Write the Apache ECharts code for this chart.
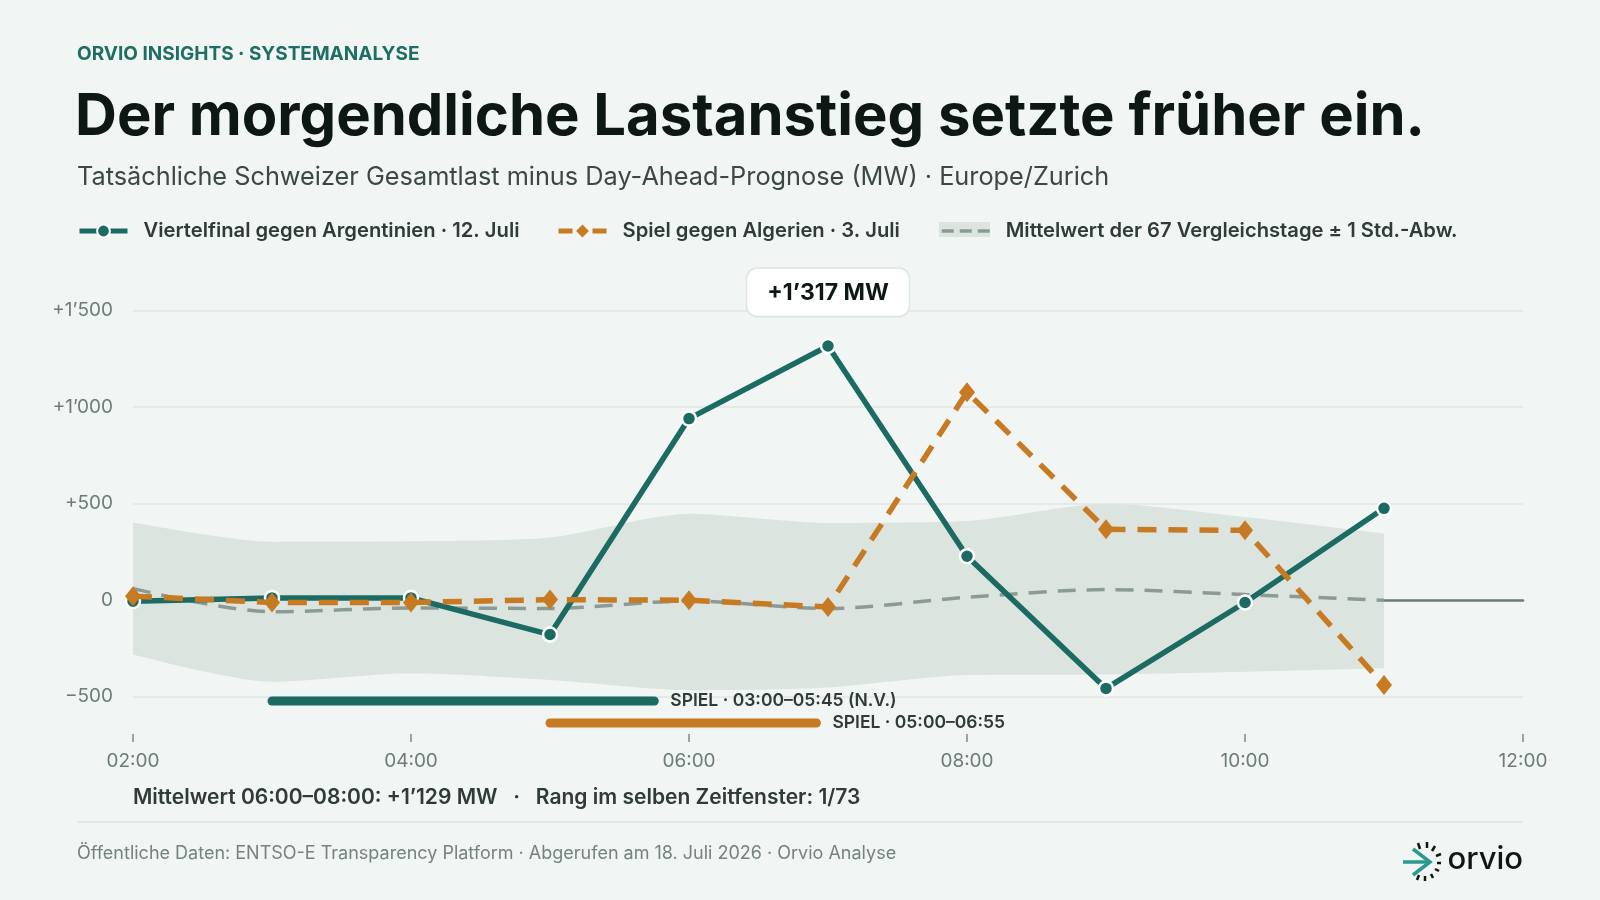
<!DOCTYPE html>
<html>
<head>
<meta charset="utf-8">
<script src="https://cdn.jsdelivr.net/npm/echarts@6/dist/echarts.min.js"></script>
<style>
  html, body { margin:0; padding:0; background:#f1f5f3; }
  #chart { width:1600px; height:900px; }
</style>
</head>
<body>
<div id="chart"></div>
<script>
// Stunden (Europe/Zurich) und Werte in MW
var stunden = ['02:00','03:00','04:00','05:00','06:00','07:00','08:00','09:00','10:00','11:00','12:00'];
var argentinien = [-5, 12, 12, -178, 941, 1317, 228, -457, -12, 476];
var algerien = [21, -12, -12, 3, 0, -35, 1078, 367, 362, -440];
var mittelwert = [60, -60, -40, -43, -4, -43, 15, 55, 29, 0];
var bandOben = [402, 302, 305, 325, 448, 400, 410, 500, 431, 345];
var bandUnten = [-281, -423, -379, -414, -466, -452, -388, -385, -371, -353];

var xTicks = ['02:00','04:00','06:00','08:00','10:00','12:00'];
var yTicks = [-500, 0, 500, 1000, 1500];

// Spielzeiten
var spielNamen = ['Argentinien', 'Algerien'];
var spielStart = ['03:00', '05:00'];
var spielEnde = ['05:45', '06:55'];
var spielLabel = ['SPIEL · 03:00–05:45 (N.V.)', 'SPIEL · 05:00–06:55'];

var nameA = 'Viertelfinal gegen Argentinien · 12. Juli';
var nameB = 'Spiel gegen Algerien · 3. Juli';
var nameM = 'Mittelwert der 67 Vergleichstage ± 1 Std.-Abw.';

var TEAL = '#1b6b63', ORANGE = '#c77a21', GREY = '#8c9a95', BAND = '#dce4df';
var INK = '#0d1714', TEXT = '#2f3b38', MUTED = '#6e7c77';
var FONT = 'Inter, "Noto Sans", sans-serif';

function toH(t){
	var p = t.split(':');
	return +p[0] + (+p[1]) / 60;
}
function pad(n){ return (n < 10 ? '0' : '') + n; }
function fmtMW(v){
	if(v === 0) return '0';
	var s = Math.abs(v).toString().replace(/\B(?=(\d{3})+(?!\d))/g, '\u2019');
	return (v > 0 ? '+' : '\u2212') + s;
}

// Spitze markieren
var peakIdx = 0;
for(var i=1;i<argentinien.length;i++){ if(argentinien[i] > argentinien[peakIdx]) peakIdx = i; }
var dataA = argentinien.map(function(v, i){
	if(i !== peakIdx) return v;
	return {
		value: v,
		label: {
			show: true, position: 'top', distance: 22,
			formatter: function(pr){ return fmtMW(pr.value) + ' MW'; },
			backgroundColor: '#ffffff', borderColor: '#dde5e1', borderWidth: 1.5, borderRadius: 10,
			padding: [13, 20, 11, 20],
			fontFamily: FONT, fontSize: 23, fontWeight: 700, color: INK
		}
	};
});

var bandDiff = bandOben.map(function(v, i){ return v - bandUnten[i]; });

var spielSeries = [];
var spielColors = [TEAL, ORANGE];
for(var k=0;k<spielNamen.length;k++){
	spielSeries.push({
		name: 'spiel' + k,
		type: 'line',
		xAxisIndex: 1, yAxisIndex: 1,
		data: [
			[toH(spielStart[k]), spielNamen[k]],
			{ value: [toH(spielEnde[k]), spielNamen[k]],
			  label: { show: true, position: 'right', distance: 16, formatter: spielLabel[k] } }
		],
		symbol: 'circle', symbolSize: 0,
		itemStyle: { color: spielColors[k] },
		lineStyle: { color: spielColors[k], width: 9, cap: 'round' },
		label: { fontFamily: FONT, fontSize: 17.5, fontWeight: 600, color: TEXT },
		silent: true
	});
}

var legendText = { fontFamily: FONT, fontSize: 20.2, fontWeight: 600, color: TEXT, padding: [0,0,0,11] };

var chart = echarts.init(document.getElementById('chart'));
var option = {
	backgroundColor: '#f1f5f3',
	animation: false,
	textStyle: { fontFamily: FONT },
	grid: [
		{ left: 133, right: 77, top: 310.7, height: 386 },
		{ left: 133, right: 77, top: 690, height: 44 }
	],
	legend: [
		{ data: [nameA], left: 77, top: 221, padding: 0, itemWidth: 48, itemHeight: 16,
		  lineStyle: { width: 5 }, textStyle: legendText },
		{ data: [nameB], left: 556, top: 221, padding: 0, itemWidth: 48, itemHeight: 16,
		  lineStyle: { width: 5, type: [14, 20] }, textStyle: legendText },
		{ data: [nameM], left: 940, top: 221, padding: 0, itemWidth: 48, itemHeight: 16,
		  lineStyle: { width: 3.5, type: [12, 6] }, itemStyle: { opacity: 0 }, textStyle: legendText }
	],
	xAxis: [
		{ gridIndex: 0, type: 'category', data: stunden, boundaryGap: false,
		  axisLine: { show: true, onZero: true, lineStyle: { color: '#6c7b76', width: 2.5 } },
		  axisTick: { show: false }, axisLabel: { show: false }, splitLine: { show: false } },
		{ gridIndex: 1, type: 'value', min: toH(xTicks[0]), max: toH(xTicks[xTicks.length-1]), interval: 2,
		  axisLine: { show: false },
		  axisTick: { show: true, length: 8, lineStyle: { color: '#7d8b86', width: 1.5 } },
		  axisLabel: { margin: 18, fontSize: 19, color: MUTED, fontFamily: FONT,
		    formatter: function(v){ return pad(v) + ':00'; } },
		  splitLine: { show: false } }
	],
	yAxis: [
		{ gridIndex: 0, type: 'value', min: yTicks[0], max: yTicks[yTicks.length-1], interval: 500,
		  axisLine: { show: false }, axisTick: { show: false },
		  axisLabel: { margin: 20, fontSize: 19, color: MUTED, fontFamily: FONT, formatter: fmtMW },
		  splitLine: { lineStyle: { color: '#dfe6e3', width: 1.5 } } },
		{ gridIndex: 1, type: 'category', data: ['Algerien', 'Argentinien'], show: false }
	],
	series: [
		{ name: 'bandUnten', type: 'line', stack: 'band', stackStrategy: 'all', data: bandUnten, smooth: 0.25,
		  symbol: 'none', lineStyle: { opacity: 0 }, silent: true, z: 1 },
		{ name: 'bandOben', type: 'line', stack: 'band', stackStrategy: 'all', data: bandDiff, smooth: 0.25,
		  symbol: 'none', lineStyle: { opacity: 0 }, areaStyle: { color: BAND, opacity: 1 }, silent: true, z: 1 },
		{ name: nameM, type: 'line', data: mittelwert, smooth: 0.3, symbol: 'none',
		  itemStyle: { color: GREY },
		  lineStyle: { color: GREY, width: 3.5, type: [18, 11] }, z: 3 },
		{ name: nameA, type: 'line', data: dataA, symbol: 'circle', symbolSize: 14,
		  itemStyle: { color: TEAL, borderColor: '#ffffff', borderWidth: 2.5 },
		  lineStyle: { color: TEAL, width: 5.5 }, z: 4 },
		{ name: nameB, type: 'line', data: algerien, symbol: 'diamond', symbolSize: [16, 20],
		  itemStyle: { color: ORANGE },
		  lineStyle: { color: ORANGE, width: 5.5, type: [19, 12] }, z: 5 }
	].concat(spielSeries),
	graphic: [
		{ type: 'rect', z: 0, shape: { x: 939, y: 222, width: 51, height: 15 }, style: { fill: BAND } },
		{ type: 'text', style: { x: 77, y: 54.5, text: 'ORVIO INSIGHTS · SYSTEMANALYSE', font: '700 19px ' + FONT, fill: '#1d6e63', verticalAlign: 'middle' } },
		{ type: 'text', style: { x: 75, y: 118, text: 'Der morgendliche Lastanstieg setzte früher ein.', font: '700 58px ' + FONT, fill: INK, verticalAlign: 'middle' } },
		{ type: 'text', style: { x: 77, y: 177, text: 'Tatsächliche Schweizer Gesamtlast minus Day-Ahead-Prognose (MW) · Europe/Zurich', font: '400 25.3px ' + FONT, fill: '#3b4845', verticalAlign: 'middle' } },
		{ type: 'text', style: { x: 133, y: 798, text: 'Mittelwert 06:00–08:00: +1\u2019129 MW   ·   Rang im selben Zeitfenster: 1/73', font: '600 21px ' + FONT, fill: TEXT, verticalAlign: 'middle' } },
		{ type: 'line', shape: { x1: 77, y1: 822, x2: 1523, y2: 822 }, style: { stroke: '#dde4e1', lineWidth: 1.5 } },
		{ type: 'text', style: { x: 77, y: 854, text: 'Öffentliche Daten: ENTSO-E Transparency Platform · Abgerufen am 18. Juli 2026 · Orvio Analyse', font: '400 18px ' + FONT, fill: '#75837e', verticalAlign: 'middle' } },
		// Logo
		{ type: 'group', children: [
			{ type: 'polyline', shape: { points: [[1413, 849], [1430, 862], [1413, 875]] }, style: { stroke: '#2a9a8c', lineWidth: 3.5, fill: null } },
			{ type: 'line', shape: { x1: 1403, y1: 862, x2: 1429, y2: 862 }, style: { stroke: '#2a9a8c', lineWidth: 3.5 } },
			{ type: 'line', shape: { x1: 1418, y1: 843, x2: 1420, y2: 849 }, style: { stroke: INK, lineWidth: 2.5 } },
			{ type: 'line', shape: { x1: 1427, y1: 842, x2: 1427, y2: 848 }, style: { stroke: INK, lineWidth: 2.5 } },
			{ type: 'line', shape: { x1: 1435, y1: 846, x2: 1432, y2: 851 }, style: { stroke: INK, lineWidth: 2.5 } },
			{ type: 'line', shape: { x1: 1441, y1: 854, x2: 1436, y2: 856 }, style: { stroke: INK, lineWidth: 2.5 } },
			{ type: 'line', shape: { x1: 1441, y1: 863, x2: 1437, y2: 863 }, style: { stroke: INK, lineWidth: 2.5 } },
			{ type: 'line', shape: { x1: 1439, y1: 871, x2: 1435, y2: 869 }, style: { stroke: INK, lineWidth: 2.5 } },
			{ type: 'line', shape: { x1: 1433, y1: 878, x2: 1431, y2: 874 }, style: { stroke: INK, lineWidth: 2.5 } },
			{ type: 'line', shape: { x1: 1425, y1: 881, x2: 1425, y2: 876 }, style: { stroke: INK, lineWidth: 2.5 } },
			{ type: 'line', shape: { x1: 1417, y1: 880, x2: 1419, y2: 875 }, style: { stroke: INK, lineWidth: 2.5 } },
			{ type: 'text', style: { x: 1523, y: 860, text: 'orvio', font: '500 31px ' + FONT, fill: INK, align: 'right', verticalAlign: 'middle' } }
		] }
	]
};
chart.setOption(option);
</script>
</body>
</html>
